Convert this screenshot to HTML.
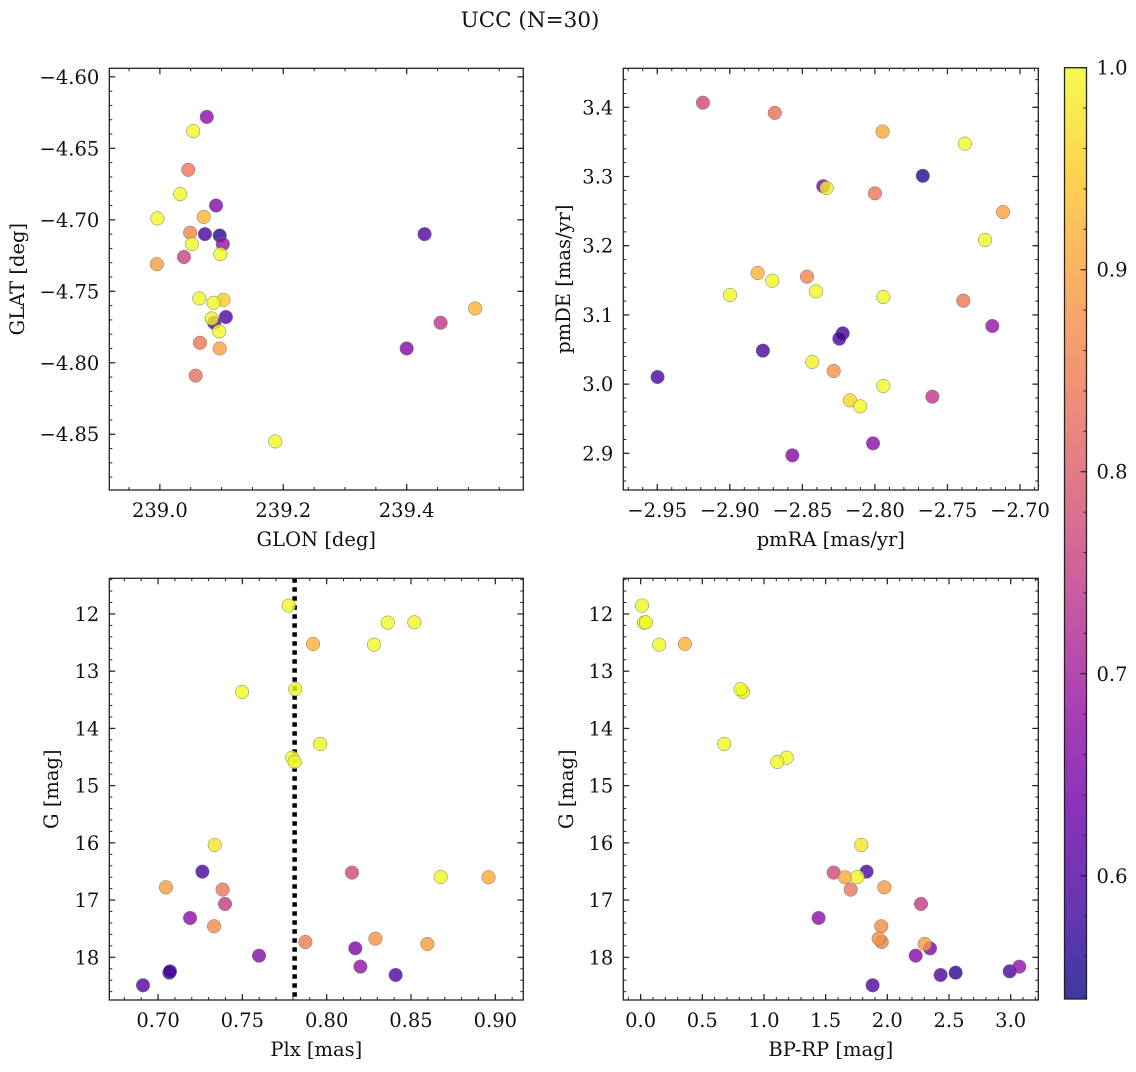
<!DOCTYPE html>
<html><head><meta charset="utf-8">
<style>
html,body{margin:0;padding:0;background:#fff;}
svg text{font-family:"DejaVu Serif","Liberation Serif",serif;fill:#111;}
</style></head>
<body>
<svg id="fig" xmlns="http://www.w3.org/2000/svg" width="1136" height="1067" viewBox="0 0 1136 1067">
<defs>
<linearGradient id="plasmaGrad" x1="0" y1="1" x2="0" y2="0">
<stop offset="0" stop-color="#0d0887"/><stop offset="0.1" stop-color="#41049d"/><stop offset="0.2" stop-color="#6a00a8"/><stop offset="0.3" stop-color="#8f0da4"/><stop offset="0.4" stop-color="#b12a90"/><stop offset="0.5" stop-color="#cc4778"/><stop offset="0.6" stop-color="#e16462"/><stop offset="0.7" stop-color="#f2844b"/><stop offset="0.8" stop-color="#fca636"/><stop offset="0.9" stop-color="#fcce25"/><stop offset="1" stop-color="#f0f921"/>
</linearGradient>
</defs>
<text x="530" y="27" text-anchor="middle" font-size="21.5">UCC (N=30)</text>
</svg>
<script>
// ---- Data: sky position panel ----
const glon = [239.076,239.054,239.046,239.033,239.091,238.996,239.071,239.049,239.073,239.097,239.052,239.102,239.039,239.098,238.995,239.064,239.103,239.087,239.084,239.088,239.107,239.096,239.065,239.097,239.058,239.187,239.429,239.400,239.455,239.511];
const glat = [-4.628,-4.638,-4.665,-4.682,-4.690,-4.699,-4.698,-4.709,-4.710,-4.711,-4.717,-4.717,-4.726,-4.724,-4.731,-4.755,-4.756,-4.758,-4.769,-4.772,-4.768,-4.778,-4.786,-4.790,-4.809,-4.855,-4.710,-4.790,-4.772,-4.762];
const probSky = [0.67,1.0,0.84,1.0,0.66,1.0,0.92,0.86,0.59,0.56,1.0,0.68,0.76,1.0,0.89,1.0,0.95,1.0,0.99,0.59,0.60,1.0,0.84,0.90,0.83,1.0,0.60,0.66,0.74,0.92];
// ---- Data: proper motion panel ----
const pmra = [-2.9185,-2.869,-2.7947,-2.738,-2.767,-2.8356,-2.8333,-2.800,-2.7117,-2.7241,-2.8808,-2.8707,-2.8468,-2.8406,-2.8999,-2.7942,-2.7391,-2.7191,-2.8222,-2.8245,-2.8772,-2.8432,-2.8284,-2.7942,-2.9498,-2.8172,-2.8101,-2.7604,-2.8013,-2.8569];
const pmde = [3.4067,3.392,3.365,3.3475,3.301,3.286,3.2834,3.2757,3.2487,3.2083,3.1606,3.1495,3.1553,3.1341,3.1288,3.1259,3.1206,3.084,3.0734,3.0657,3.0484,3.032,3.019,2.9973,3.0103,2.9766,2.9679,2.9819,2.9144,2.8971];
const probPM = [0.77,0.83,0.91,1.0,0.56,0.64,0.99,0.84,0.90,1.0,0.92,1.0,0.86,1.0,1.0,1.0,0.84,0.68,0.58,0.59,0.59,0.99,0.88,1.0,0.59,0.96,1.0,0.74,0.67,0.66];
// ---- Data: photometry / parallax (matched per star) ----
const plx = [0.7775,0.8362,0.8520,0.7919,0.8281,0.7498,0.7814,0.7962,0.7796,0.7810,0.7336,0.7263,0.8150,0.8676,0.8960,0.7047,0.7383,0.7397,0.7190,0.7332,0.7599,0.7874,0.8289,0.8597,0.8170,0.8200,0.7071,0.7067,0.8409,0.6911];
const gmag = [11.854,12.151,12.146,12.524,12.536,13.363,13.316,14.272,14.511,14.586,16.037,16.503,16.520,16.596,16.602,16.777,16.817,17.068,17.313,17.458,17.971,17.732,17.674,17.767,17.843,18.163,18.245,18.268,18.309,18.489];
const bprp = [0.011,0.027,0.043,0.359,0.151,0.830,0.811,0.678,1.184,1.108,1.789,1.832,1.565,1.759,1.657,1.976,1.703,2.273,1.443,1.951,2.230,1.954,1.930,2.303,2.346,3.070,2.992,2.554,2.432,1.881];
const probPh = [1.0,1.0,1.0,0.92,1.0,1.0,1.0,1.0,1.0,1.0,0.98,0.59,0.77,1.0,0.91,0.89,0.84,0.75,0.67,0.87,0.66,0.85,0.88,0.89,0.65,0.68,0.59,0.56,0.60,0.60];
const plxMedian = 0.781;
// ---- Tick labels ----
const tlXTicks = [239.0,239.2,239.4];
const tlXLabels = ["239.0","239.2","239.4"];
const tlYTicks = [-4.60,-4.65,-4.70,-4.75,-4.80,-4.85];
const tlYLabels = ["\u22124.60","\u22124.65","\u22124.70","\u22124.75","\u22124.80","\u22124.85"];
const trXTicks = [-2.95,-2.90,-2.85,-2.80,-2.75,-2.70];
const trXLabels = ["\u22122.95","\u22122.90","\u22122.85","\u22122.80","\u22122.75","\u22122.70"];
const trYTicks = [2.9,3.0,3.1,3.2,3.3,3.4];
const trYLabels = ["2.9","3.0","3.1","3.2","3.3","3.4"];
const blXTicks = [0.70,0.75,0.80,0.85,0.90];
const blXLabels = ["0.70","0.75","0.80","0.85","0.90"];
const gTicks = [12,13,14,15,16,17,18];
const gLabels = ["12","13","14","15","16","17","18"];
const brXTicks = [0,0.5,1,1.5,2,2.5,3];
const brXLabels = ["0.0","0.5","1.0","1.5","2.0","2.5","3.0"];
const cbTicks = [0.6,0.7,0.8,0.9,1.0];
const cbLabels = ["0.6","0.7","0.8","0.9","1.0"];

const NS = "http://www.w3.org/2000/svg";
const svg = document.getElementById('fig');
function mk(tag, attrs, parent){const e=document.createElementNS(NS,tag);for(const k in attrs)e.setAttribute(k,attrs[k]);(parent||svg).appendChild(e);return e;}

const stops=[[0,[13,8,135]],[0.1,[65,4,157]],[0.2,[106,0,168]],[0.3,[143,13,164]],[0.4,[177,42,144]],[0.5,[204,71,120]],[0.6,[225,100,98]],[0.7,[242,132,75]],[0.8,[252,166,54]],[0.9,[252,206,37]],[1,[240,249,33]]];
const CMIN=0.539, CMAX=1.0;
function plasma(v){let f=(v-CMIN)/(CMAX-CMIN);f=Math.max(0,Math.min(1,f));for(let i=1;i<stops.length;i++){if(f<=stops[i][0]){const a=stops[i-1],b=stops[i];const t=(f-a[0])/(b[0]-a[0]);const c=a[1].map((x,j)=>Math.round(x+(b[1][j]-x)*t));return `rgb(${c[0]},${c[1]},${c[2]})`;}}return 'rgb(240,249,33)';}

const TICKFS=19.5, TITLEFS=19.5;
function panel(P){
  const g=mk('g',{});
  
  
  const sx=v=>P.px0+(v-P.xd[0])/(P.xd[1]-P.xd[0])*(P.px1-P.px0);
  const sy=v=>P.py1-(v-P.yd[0])/(P.yd[1]-P.yd[0])*(P.py1-P.py0);
  const xlo=Math.min(...P.xd), xhi=Math.max(...P.xd), ylo=Math.min(...P.yd), yhi=Math.max(...P.yd);
  const eps=1e-9;
  for(let v=Math.ceil(xlo/P.xMinor-eps)*P.xMinor; v<=xhi+eps; v+=P.xMinor){
    const x=sx(v);
    const t1=mk('line',{x1:x,x2:x,y1:P.py1,y2:P.py1-3,stroke:'#222','stroke-width':1},g);
    
    
    const t2=mk('line',{x1:x,x2:x,y1:P.py0,y2:P.py0+3,stroke:'#222','stroke-width':1},g);
    
    
  }
  for(let v=Math.ceil(ylo/P.yMinor-eps)*P.yMinor; v<=yhi+eps; v+=P.yMinor){
    const y=sy(v);
    const t1=mk('line',{x1:P.px0,x2:P.px0+3,y1:y,y2:y,stroke:'#222','stroke-width':1},g);
    
    
    const t2=mk('line',{x1:P.px1,x2:P.px1-3,y1:y,y2:y,stroke:'#222','stroke-width':1},g);
    
    
  }
  P.xTicks.forEach((v,i)=>{
    const x=sx(v);
    const t1=mk('line',{x1:x,x2:x,y1:P.py1,y2:P.py1-6,stroke:'#222','stroke-width':1.2},g);
    
    
    const t2=mk('line',{x1:x,x2:x,y1:P.py0,y2:P.py0+6,stroke:'#222','stroke-width':1.2},g);
    
    
    const tx=mk('text',{x:x,y:P.py1+27,'text-anchor':'middle','font-size':TICKFS},g);
    tx.textContent=P.xLabels[i];
    
    
  });
  P.yTicks.forEach((v,i)=>{
    const y=sy(v);
    const t1=mk('line',{x1:P.px0,x2:P.px0+6,y1:y,y2:y,stroke:'#222','stroke-width':1.2},g);
    
    
    const t2=mk('line',{x1:P.px1,x2:P.px1-6,y1:y,y2:y,stroke:'#222','stroke-width':1.2},g);
    
    
    const ty=mk('text',{x:P.px0-10,y:y+7,'text-anchor':'end','font-size':TICKFS},g);
    ty.textContent=P.yLabels[i];
    
    
  });
  if(P.vline!==undefined){
    const x=sx(P.vline);
    const vl=mk('line',{x1:x,x2:x,y1:P.py0,y2:P.py1,stroke:'#000','stroke-width':4.5,'stroke-dasharray':'4.5,4.5'},g);
    
    
  }
  const idx=P.xs.map((_,i)=>i).sort((a,b)=>P.cs[a]-P.cs[b]);
  idx.forEach(i=>{
    const c=mk('circle',{cx:sx(P.xs[i]),cy:sy(P.ys[i]),r:6.8,fill:plasma(P.cs[i]),'fill-opacity':0.8,stroke:'#777','stroke-width':0.5},g);
    
    
  });
  const fr=mk('rect',{x:P.px0,y:P.py0,width:P.px1-P.px0,height:P.py1-P.py0,fill:'none',stroke:'#222','stroke-width':1.3},g);
  
  
  const xl=mk('text',{x:(P.px0+P.px1)/2,y:P.py1+56,'text-anchor':'middle','font-size':TITLEFS},g);
  xl.textContent=P.xTitle;
  
  
  const yl=mk('text',{x:P.yTitleX,y:(P.py0+P.py1)/2,'text-anchor':'middle','font-size':TITLEFS,transform:`rotate(-90 ${P.yTitleX} ${(P.py0+P.py1)/2})`},g);
  yl.textContent=P.yTitle;
  
  
}

panel({name:'glon-glat-panel',px0:109.3,px1:523.3,py0:68.3,py1:490,xd:[238.918,239.589],yd:[-4.889,-4.594],xMinor:0.05,yMinor:0.01,xTicks:tlXTicks,xLabels:tlXLabels,yTicks:tlYTicks,yLabels:tlYLabels,xs:glon,ys:glat,cs:probSky,xTitle:'GLON [deg]',yTitle:'GLAT [deg]',yTitleX:24});
panel({name:'proper-motion-panel',px0:623.3,px1:1038.3,py0:68.3,py1:490,xd:[-2.9734,-2.6874],yd:[2.847,3.4564],xMinor:0.01,yMinor:0.02,xTicks:trXTicks,xLabels:trXLabels,yTicks:trYTicks,yLabels:trYLabels,xs:pmra,ys:pmde,cs:probPM,xTitle:'pmRA [mas/yr]',yTitle:'pmDE [mas/yr]',yTitleX:570});
panel({name:'parallax-magnitude-panel',px0:109.3,px1:523.3,py0:578.3,py1:1000,xd:[0.6711,0.9166],yd:[18.746,11.377],xMinor:0.01,yMinor:0.2,xTicks:blXTicks,xLabels:blXLabels,yTicks:gTicks,yLabels:gLabels,xs:plx,ys:gmag,cs:probPh,xTitle:'Plx [mas]',yTitle:'G [mag]',yTitleX:58,vline:plxMedian});
panel({name:'color-magnitude-panel',px0:623.3,px1:1038.3,py0:578.3,py1:1000,xd:[-0.1405,3.224],yd:[18.746,11.377],xMinor:0.1,yMinor:0.2,xTicks:brXTicks,xLabels:brXLabels,yTicks:gTicks,yLabels:gLabels,xs:bprp,ys:gmag,cs:probPh,xTitle:'BP-RP [mag]',yTitle:'G [mag]',yTitleX:573});

// colorbar (linear)
const cb=mk('g',{});


const CBX=1064.5, CBW=22, CBT=67.7, CBB=999;
const cbr=mk('rect',{x:CBX,y:CBT,width:CBW,height:CBB-CBT,fill:'url(#plasmaGrad)','fill-opacity':0.8},cb);


function cbY(v){return CBB-(v-CMIN)/(CMAX-CMIN)*(CBB-CBT);}
for(let k=27;k<=50;k++){ const v=k*0.02; if(k%5===0) continue; const y=cbY(v); if(y>CBB||y<CBT)continue; const t=mk('line',{x1:CBX+CBW,x2:CBX+CBW-3,y1:y,y2:y,stroke:'#222','stroke-width':1},cb);  }
cbTicks.forEach((v,i)=>{
  const y=cbY(v);
  const t=mk('line',{x1:CBX+CBW,x2:CBX+CBW-6,y1:y,y2:y,stroke:'#222','stroke-width':1.2},cb);
  
  
  const tx=mk('text',{x:CBX+CBW+10,y:y+7,'font-size':TICKFS},cb);
  tx.textContent=cbLabels[i];
  
  
});
const cbf=mk('rect',{x:CBX,y:CBT,width:CBW,height:CBB-CBT,fill:'none',stroke:'#222','stroke-width':1.3},cb);


</script>
</body></html>
